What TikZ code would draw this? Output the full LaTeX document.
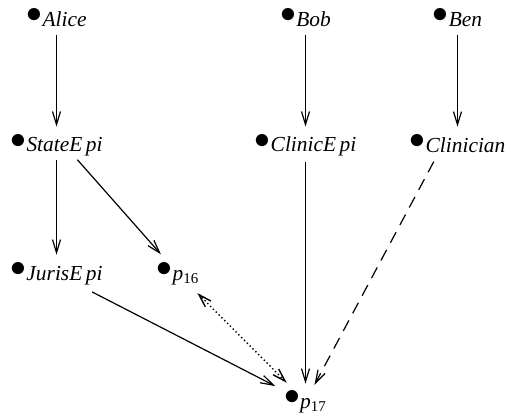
\documentclass[tikz,border=0pt]{standalone}
\usepackage{fontspec}
\setmainfont{Liberation Serif}
\usetikzlibrary{arrows.meta,positioning,calc}
\newcommand{\dotmark}{\raisebox{1.6pt}{\scalebox{1.45}{$\bullet$}}\hspace{0.1pt}}

\begin{document}
\begin{tikzpicture}[x=0.5pt, y=-0.5pt,
        >={Straight Barb[length=6.5pt,width=4pt]},
        every node/.style={inner sep=0pt, outer sep=0pt, anchor=base, font=\fontsize{10.7}{12}\selectfont\itshape},
        flow/.style={->, line width=0.6pt},
        maybe/.style={flow, dash pattern=on 6pt off 4pt},
        link/.style={<->, line width=0.7pt, dash pattern=on 0.7pt off 1.3pt}
    ]
        \useasboundingbox (0,0) rectangle (505,414);

        % top row
        \node (alice) at (56.5,26) {\dotmark Alice};
        \node (bob) at (305.5,26) {\dotmark Bob};
        \node (ben) at (457.5,26) {\dotmark Ben};

        % middle row
        \node (stateepi) at (56.5,151.5) {\dotmark StateE\,pi};
        \node (clinicepi) at (305.5,151.5) {\dotmark ClinicE\,pi};
        \node (clinician) at (457.5,152) {\dotmark Clinician};

        % bottom
        \node (jurisepi) at (56.5,280) {\dotmark JurisE\,pi};
        \node (p16) at (178,280) {\dotmark p\textsubscript{\upshape 16}};
        \node (p17) at (305.5,408) {\dotmark p\textsubscript{\upshape 17}};

        \draw[flow, shorten <=8.6pt, shorten >=9.3pt] (alice.center) -- (stateepi.center);
        \draw[flow, shorten <=8.6pt, shorten >=9.3pt] (bob.center) -- (clinicepi.center);
        \draw[flow, shorten <=8.6pt, shorten >=8.4pt] (ben.center) -- (clinician.center);
        \draw[flow, shorten <=7.2pt, shorten >=9.5pt] (stateepi.center) -- (jurisepi.center);
        \draw[flow, shorten <=9.7pt, shorten >=12.9pt] ([xshift=4pt]stateepi.center) -- (p16.center);
        \draw[flow, shorten <=8.2pt, shorten >=9pt] (clinicepi.center) -- (p17.center);
        \draw[maybe, shorten <=10.3pt, shorten >=9.5pt] ([xshift=-7pt]clinician.center) -- (p17.center);
        \draw[flow, shorten <=20pt, shorten >=17pt] (jurisepi.center) -- (p17.center);
        \draw[link, shorten <=13.3pt, shorten >=13.7pt] (p17.center) -- (p16.center);
    \end{tikzpicture}
\end{document}
